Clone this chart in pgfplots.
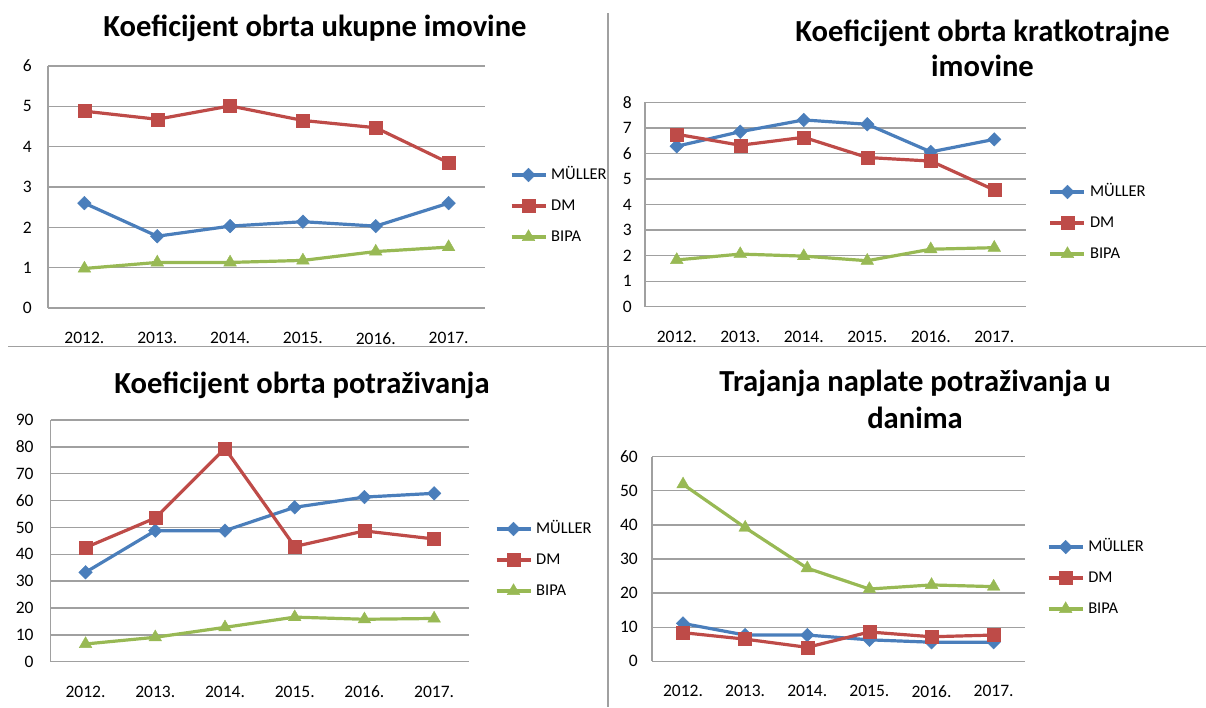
\documentclass[border=0pt]{standalone}
\usepackage{pgfplots}
\pgfplotsset{compat=1.18}
\usepackage{fontspec}
\setmainfont{Carlito}
\definecolor{cblue}{HTML}{4A7EBB}
\definecolor{cred}{HTML}{BE4B48}
\definecolor{cgreen}{HTML}{98B954}
\definecolor{gridc}{HTML}{A0A0A0}
\pgfplotsset{
 panel/.style={
  scale only axis,
  anchor=south west,
  xmin=-0.5, xmax=5.5,
  xtick={0,...,5},
  xticklabels={2012.,2013.,2014.,2015.,2016.,2017.},
  axis lines*=left,
  axis line style={draw=gridc, line width=1.3pt, -},
  ymajorgrids,
  grid style={draw=gridc, line width=1.3pt},
  major tick length=0pt,
  tick label style={font=\fontsize{17.5}{20}\selectfont, text=black},
  /pgf/number format/assume math mode=true,
  xticklabel style={inner sep=0pt, anchor=north, yshift=-24pt},
  legend cell align=left,
  legend style={draw=none, fill=none, inner sep=0pt, outer sep=0pt,
    font=\fontsize{16.5}{19}\selectfont, anchor=west, row sep=15pt, column sep=4pt,
    nodes={inner sep=0pt, text height=12pt, text depth=4pt}},
  legend image code/.code={\draw[mark repeat=2, mark phase=2, ##1] plot coordinates {(0pt,0pt) (17pt,0pt) (34pt,0pt)};},
  clip=false,
 },
 muller/.style={cblue, line width=3.2pt, mark=diamond*, mark size=6.8pt, mark options={xscale=1.33, solid, fill=cblue, line width=0.4pt}},
 dm/.style={cred, line width=3.2pt, mark=square*, mark size=6.5pt, mark options={solid, fill=cred, line width=0.4pt}},
 bipa/.style={cgreen, line width=3.2pt, mark=triangle*, mark size=7.3pt, mark options={solid, fill=cgreen, line width=0.4pt}},
}
\newcommand{\ttl}{\fontsize{30.6}{35}\selectfont\bfseries}
\begin{document}
\begin{tikzpicture}
\useasboundingbox (0,0) rectangle (1206pt,-707pt);
% separators
\draw[gridc, line width=1.5pt] (608pt,-13pt) -- (608pt,-707pt);
\draw[gridc, line width=1.5pt] (8pt,-346.5pt) -- (1206pt,-346.5pt);
% titles
\node[anchor=base, font=\ttl, inner sep=0pt] at (315pt,-36.7pt) {Koeficijent obrta ukupne imovine};
\node[anchor=base, font=\ttl, inner sep=0pt] at (982.5pt,-41.7pt) {Koeficijent obrta kratkotrajne};
\node[anchor=base, font=\ttl, inner sep=0pt] at (982.5pt,-76.7pt) {imovine};
\node[anchor=base, font=\ttl, inner sep=0pt] at (302pt,-393pt) {Koeficijent obrta potraživanja};
\node[anchor=base, font=\ttl, inner sep=0pt] at (915pt,-391pt) {Trajanja naplate potraživanja u};
\node[anchor=base, font=\ttl, inner sep=0pt] at (915pt,-428pt) {danima};

% Panel 1
\begin{axis}[panel, at={(48pt,-308pt)}, width=437pt, height=242pt,
  ymin=0, ymax=6, ytick={0,...,6},
  yticklabel style={inner sep=0pt, anchor=east, xshift=-16pt},
  legend style={at={(1.057,0.4215)}}]
\addplot[muller] coordinates {(0,2.60) (1,1.78) (2,2.03) (3,2.14) (4,2.03) (5,2.60)};
\addplot[dm] coordinates {(0,4.88) (1,4.68) (2,5.01) (3,4.65) (4,4.47) (5,3.60)};
\addplot[bipa] coordinates {(0,0.98) (1,1.13) (2,1.13) (3,1.18) (4,1.40) (5,1.51)};
\legend{MÜLLER,DM,BIPA}
\end{axis}

% Panel 2
\begin{axis}[panel, at={(645pt,-306.7pt)}, width=381pt, height=204.4pt,
  ymin=0, ymax=8, ytick={0,...,8},
  yticklabel style={inner sep=0pt, anchor=east, xshift=-13pt},
  legend style={at={(1.060,0.4095)}}]
\addplot[muller] coordinates {(0,6.28) (1,6.85) (2,7.31) (3,7.14) (4,6.06) (5,6.55)};
\addplot[dm] coordinates {(0,6.75) (1,6.32) (2,6.63) (3,5.84) (4,5.70) (5,4.57)};
\addplot[bipa] coordinates {(0,1.83) (1,2.06) (2,1.98) (3,1.80) (4,2.25) (5,2.31)};
\legend{MÜLLER,DM,BIPA}
\end{axis}

% Panel 3
\begin{axis}[panel, at={(50.7pt,-661.7pt)}, width=418.3pt, height=241.7pt,
  ymin=0, ymax=90, ytick={0,10,...,90},
  yticklabel style={inner sep=0pt, anchor=east, xshift=-17pt},
  legend style={at={(1.062,0.4208)}}]
\addplot[muller] coordinates {(0,33.3) (1,48.8) (2,48.8) (3,57.5) (4,61.3) (5,62.7)};
\addplot[dm] coordinates {(0,42.5) (1,53.5) (2,79.4) (3,42.9) (4,48.7) (5,45.7)};
\addplot[bipa] coordinates {(0,6.6) (1,9.1) (2,12.8) (3,16.6) (4,15.8) (5,16.1)};
\legend{MÜLLER,DM,BIPA}
\end{axis}

% Panel 4
\begin{axis}[panel, at={(652pt,-661.3pt)}, width=372.7pt, height=204.6pt,
  ymin=0, ymax=60, ytick={0,10,...,60},
  yticklabel style={inner sep=0pt, anchor=east, xshift=-14pt},
  legend style={at={(1.060,0.407)}}]
\addplot[muller] coordinates {(0,11.1) (1,7.7) (2,7.7) (3,6.3) (4,5.6) (5,5.6)};
\addplot[dm] coordinates {(0,8.4) (1,6.5) (2,4.1) (3,8.6) (4,7.2) (5,7.7)};
\addplot[bipa] coordinates {(0,51.9) (1,39.2) (2,27.3) (3,21.2) (4,22.4) (5,21.9)};
\legend{MÜLLER,DM,BIPA}
\end{axis}
\end{tikzpicture}
\end{document}
